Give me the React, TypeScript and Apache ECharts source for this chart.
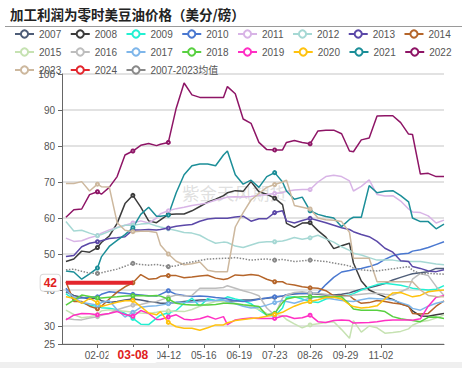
import React, { useEffect, useRef } from 'react';
import * as echarts from 'echarts';

const FONT = "'Liberation Sans', 'Noto Sans CJK SC', sans-serif";
const titleText = '加工利润为零时美豆油价格（美分/磅）';
const watermarkText = '紫金天风期货';
const tickLabels = ['02-02', '03-08', '04-12', '05-16', '06-19', '07-23', '08-26', '09-29', '11-02'];
const categoryCount = 98;
const weekCount = 52;

const y2007 = [39.5,38.5,38,37.5,37.8,37,36.5,36.8,37.2,37.5,37.2,36.8,36.5,36.3,36.3,36.5,36.8,37,37.2,37.3,37,36.8,36.9,37,37.2,37.2,37.5,37.7,38,38.3,38.6,38.9,39.1,39,38.8,38.6,38.6,38.8,39.2,39.6,40.2,40.6,41.2,41.8,42.8,43.5,44.2,44.5,44.8,45.1,46,46];
const y2008 = [47.9,48.6,50.8,50.5,51.8,53.2,55,58.5,64,66.3,63,59.2,58.7,59.5,61,61.1,61.1,62,63.2,64.4,65.2,66.2,67,67.6,67.4,70.1,67.3,66.6,65.5,63.7,58.5,57.4,58.6,58.7,56.5,54.7,51.5,52.3,53,47.5,42.5,40,39,38.1,37.4,36.2,35.5,34.2,32.8,32.7,33.1,33.5];
const y2009 = [39,37.3,36.5,35.8,35.4,35.1,34.9,34.5,33.5,32.1,30.5,30.4,32.2,33,33.7,34.3,36.3,37.7,35.5,37.6,37,37.5,38.1,37.5,37,36.2,34.5,33,32.8,35,38,38.1,37.5,36.8,36.5,37.5,38,38.3,38.6,39,40,40.8,41.5,41.9,41.6,41.3,40.8,40.5,40.2,40,40.2,41.2];
const y2010 = [40.5,37.7,37.8,38,38.1,38.8,39.5,39.3,39.1,38.8,38.6,38.4,38.3,38.8,39.8,38.8,38.5,38.2,38.3,38.2,37.9,37.7,37.5,37,36.8,37,37.4,37.8,38.1,38.3,38.7,39.1,39,39.1,39.2,41.5,43.5,45,45.4,45.7,46,46.5,47.2,48.5,49.5,50,50.2,50.8,51.2,51.8,52.6,53.4];
const y2011 = [54.4,53.5,53.7,54.5,55.1,55.8,56.7,57.4,58,58.6,59.2,58.6,60,61.2,62,62.6,63,63.5,63.8,64.2,65,65.5,65.8,65.9,65.8,66,66.3,66.5,66.8,67.1,67.4,67.8,67.9,67.9,70,71.5,71.9,71.5,70.3,67.5,68.8,70.6,66.5,66.1,66.2,64.7,62.5,61.7,61.5,60.6,58.6,59.4];
const y2012 = [59,56.4,56.6,55.8,55.1,55.4,56.3,57.3,58,58,58.3,58.5,57.8,57.5,57,56.5,56,55.8,55.2,54,53,53.3,53.2,52.2,51.8,52.5,53.2,53.4,53.4,53.6,53.9,54.6,54.1,54.5,55.2,54.2,53.3,52,51,50.2,49.7,49,48.3,48.3,48.3,48,47.9,47.9,47.9,47.6,47.2,47];
const y2013 = [49.3,49.6,52,53,53.4,53.7,54.3,54.5,54.8,56.7,56.7,56.8,56.7,56.8,57.2,57.7,58,58.2,59.1,59.7,59.9,59.9,59.9,60.3,60.5,59.1,59.8,59.8,61.5,62,59.2,58.6,59.3,59.9,59.3,58.7,58,57.3,56.8,56.2,55.4,54.8,53.5,51.6,50.5,48.1,47.9,46.5,46,45.3,45.1,45.6];
const y2014 = [42.3,36.8,36.8,35.5,34.8,35.5,37.5,39.4,40.9,42,44.3,43,43.2,43.8,44,44,43.4,43.6,43.9,44.1,43.3,42.9,43.1,44.2,44,44.3,44,43,42.3,42.3,41.7,41.4,40.9,40.6,40.5,39.8,38.4,38.3,38.4,37.5,36.3,36.5,37.1,36.8,36.4,36.1,35.5,33.5,33.3,33.5,35.5,37];
const y2015 = [34.4,33.2,32.3,32.6,33.1,34.2,34.5,34.3,34.1,33.8,33.6,33.5,33.8,34,34.2,34.1,34,34.6,35.5,36.2,36.8,36.9,36.5,36.3,35.8,35.4,34.6,33.5,33.3,32.8,31.8,30.6,29.5,30.3,30.6,31,31.2,29,26.6,31.5,28.3,30,29.5,28,28.2,28.5,29.2,30.2,31.2,31.5,32.2,33.1];
const y2016 = [32.1,31.8,31.7,32.2,32.6,33,33.5,34.5,35.2,35.8,36,36.5,36.8,37.2,38,38.6,38.3,38.5,40.5,40.5,40.5,40.7,41.2,40.5,39.8,39.2,38.4,35,33,37.8,38.6,39.3,39.5,39.2,39,38.8,38.3,38.1,38.3,38.6,38.8,39,39.1,38.8,38.6,39.5,40.5,43,44.6,44,41,38.5];
const y2017 = [40,38,36.5,36.2,35.8,36.5,37,34.5,32.5,33.8,35.2,35.5,35.6,35.8,36.2,36.7,36.5,36.6,36.8,37,37.1,37.2,36.8,36.2,35.5,35,35.2,35.8,36.5,37.1,36.8,36.3,37,37.8,38.1,37.8,37.4,37.1,36.9,36.8,37.3,37.7,37.6,37.5,37.2,36.5,35.8,34.9,34.4,35.5,36.3,36.8];
const y2018 = [35.8,37.2,38.6,38.2,37.8,37.8,38,38.1,38.3,38.4,38.5,38.3,38.5,38.3,37.5,36.3,36,35.8,35.8,35.8,36,36.3,36.3,36.2,35.9,35.7,35.4,33,33.5,36.5,37.5,38,38.1,38.1,38.1,38.1,38.1,38.1,36,34.7,34.4,34.4,34.4,34,32.6,32,31.7,31.5,31.2,32.4,32.5,32.1];
const y2019 = [31.7,33,33.5,33.4,33.1,33.2,33.5,34,33.2,32.7,34.3,33.5,31.8,31.8,32.5,33.1,31.9,31.7,32,32.7,31.9,32.6,30.4,31.7,32,32.2,32.1,32.1,32.1,32.8,32.8,32.1,32.3,33,31.2,31,31.5,31.7,31.5,30.8,30.9,31,31.2,31.5,31.7,31.7,31.7,31.6,32,35.5,38,38.4];
const y2020 = [38.1,37.7,36.3,37.7,36.5,35.4,36,36.6,37,37.1,35.4,33.6,33.1,34,31,29.8,29.4,29.4,28.8,29.5,30.3,30.3,30.9,31.5,31.8,32.1,32.3,32.7,33.2,33.8,34.4,35.5,36.3,36.8,37.3,37.9,38,37.5,35.9,35.4,35,35.2,35.6,37.5,39.2,39.3,38.5,38.1,38.5,39.5,39.8,40];
const y2021 = [45.3,45,43,44.5,46.1,49.2,52.1,53.8,55.4,57.3,61,63,60.5,60.5,60.8,67,72,74.5,75,75,74.5,77.5,78.6,72,69.4,70.5,68.5,71.5,72.6,70,67.5,65.2,65.8,62,61,60.4,60,57.6,59.6,60.2,60.2,69,67,67.4,67.6,66.2,64.5,60,59,59,57,58.3];
const y2022 = [60.2,62.3,62.5,66.5,67.3,66.6,68.5,71.5,77.5,78.6,80.2,80.7,80.1,80.5,81,90.5,97.5,94.2,93.5,93.5,93.5,93.5,96.5,94.5,87.5,86.3,81,79,78.9,78.9,81,81.5,81,80.6,84.2,84.4,84.4,83.4,78.6,78.4,81.7,82.2,88.3,88.4,88.4,86.5,83.3,83.2,72.2,72.4,71.5,71.5];
const y2023 = [69.6,69.6,70.1,67.5,69.4,68.7,68.6,58.7,56.6,56.2,56.3,56.3,56,52.5,50,48,47,47.3,47.8,45.5,45.1,45.1,45.1,57.5,61.5,65,66.8,68.5,69.3,70,70.5,63.5,63,62.5,60,59.5,59.4,59,56,48.8,48.8,48.8,42.3,42.3,42.3,42.3,42.3,42.3,40,38.5,38.2,38.1];
const y2024 = [42,42,42,42,42,42,42,42,42,42];
const yMean = [45.6,45.8,45.2,44.7,44.6,44.8,45.3,45.8,46.6,47.4,47.1,46.9,47.1,46.9,46.5,46.7,47.4,47.8,48.2,48.6,48.7,48.8,48.8,49,48.7,48.3,48.5,48.6,48.3,48.5,48.3,47.9,48.1,48.3,48.1,47.9,47.5,47.1,46.7,46.1,45.6,45.4,45.3,45.6,45.9,46.2,46.5,45.5,44.5,44.6,44.5,44.4];

const seriesDefs = [
  { name: '2007', data: y2007, color: '#4E5D78' },
  { name: '2008', data: y2008, color: '#3C3C3C' },
  { name: '2009', data: y2009, color: '#22F0D2' },
  { name: '2010', data: y2010, color: '#4A78D0' },
  { name: '2011', data: y2011, color: '#D8B4E6' },
  { name: '2012', data: y2012, color: '#A6D8D4' },
  { name: '2013', data: y2013, color: '#5B48A8' },
  { name: '2014', data: y2014, color: '#B5652A' },
  { name: '2015', data: y2015, color: '#C6E2B2' },
  { name: '2016', data: y2016, color: '#BDBDBD' },
  { name: '2017', data: y2017, color: '#7EB6EA' },
  { name: '2018', data: y2018, color: '#58D040' },
  { name: '2019', data: y2019, color: '#FF2FC4' },
  { name: '2020', data: y2020, color: '#FFC20E' },
  { name: '2021', data: y2021, color: '#1B8E98' },
  { name: '2022', data: y2022, color: '#8E1566' },
  { name: '2023', data: y2023, color: '#CDB89E' },
  { name: '2024', data: y2024, color: '#E3262D' },
  { name: '2007-2023均值', data: yMean, color: '#888888' },
];

const pad2 = (n: number) => String(n).padStart(2, '0');
const baseDate = new Date(2023, 11, 29);
const categories = Array.from({ length: categoryCount }, (_, k) => {
  if (k > 0 && k % 9 === 0 && k / 9 <= tickLabels.length) return tickLabels[k / 9 - 1];
  const d = new Date(baseDate.getTime() + Math.round(k * 3.83) * 86400000);
  return `${pad2(d.getMonth() + 1)}-${pad2(d.getDate())}`;
});

const slot = (j: number) => Math.round(1 + (j * (categoryCount - 2)) / (weekCount - 1));
const expand = (values: number[]) => {
  const arr: (number | null)[] = new Array(categoryCount).fill(null);
  values.forEach((v, j) => {
    arr[slot(j)] = v;
  });
  return arr;
};
const showTick = (idx: number) => idx > 0 && idx % 9 === 0 && idx / 9 <= tickLabels.length;

export default function App() {
  const ref = useRef<HTMLDivElement>(null);
  useEffect(() => {
    if (!ref.current) return;
    const chart = echarts.init(ref.current, undefined, { renderer: 'svg' });
    const names = seriesDefs.map((s) => s.name);
    const legendCommon = {
      padding: 0,
      itemWidth: 19,
      itemHeight: 9,
      itemGap: 8.5,
      selectedMode: false,
      textStyle: { fontSize: 10, color: '#555', fontFamily: FONT },
    };
    const legendData = (list: string[]) =>
      list.map((n) => (n === '2007-2023均值' ? { name: n, lineStyle: { type: 'solid' } } : { name: n }));
    const lastIdx2024 = y2024.length - 1;
    chart.setOption({
      animation: false,
      backgroundColor: '#fff',
      title: {
        text: titleText,
        left: 10,
        top: 7,
        padding: 0,
        textStyle: { fontSize: 13.5, fontWeight: 'bold', color: '#222', fontFamily: "'Noto Sans CJK SC', sans-serif" },
      },
      legend: [
        { ...legendCommon, data: legendData(names.slice(0, 8)), left: 14, top: 29 },
        { ...legendCommon, data: legendData(names.slice(8, 16)), left: 14, top: 47 },
        { ...legendCommon, data: legendData(names.slice(16)), left: 14, top: 65 },
      ],
      grid: { left: 62, right: 18, top: 74, bottom: 24 },
      xAxis: {
        type: 'category',
        data: categories,
        boundaryGap: false,
        axisLine: { lineStyle: { color: '#666' } },
        axisTick: { interval: showTick, length: 4, lineStyle: { color: '#666' } },
        axisLabel: { interval: showTick, fontSize: 10, color: '#555', margin: 6, fontFamily: FONT },
        splitLine: { show: false },
        axisPointer: {
          show: true,
          type: 'line',
          value: slot(lastIdx2024),
          status: 'show',
          snap: false,
          triggerTooltip: false,
          lineStyle: { opacity: 0 },
          label: {
            show: true,
            formatter: (p: any) => (typeof p.value === 'number' ? categories[p.value] : p.value),
            color: '#E02020',
            fontWeight: 'bold',
            fontSize: 12,
            fontFamily: FONT,
            backgroundColor: '#fff',
            padding: [2, 9],
            margin: 3,
          },
        },
      },
      yAxis: {
        type: 'value',
        min: 25,
        max: 100,
        splitNumber: 8,
        axisLine: { show: true, lineStyle: { color: '#666' } },
        axisTick: { show: true, length: 4, lineStyle: { color: '#666' } },
        axisLabel: { fontSize: 10, color: '#555', margin: 7, fontFamily: FONT },
        splitLine: { lineStyle: { color: '#e2e2e2', width: 2 } },
        axisPointer: {
          show: true,
          type: 'line',
          value: y2024[lastIdx2024],
          status: 'show',
          snap: false,
          triggerTooltip: false,
          lineStyle: { opacity: 0 },
          label: {
            show: true,
            formatter: (p: any) => String(Math.round(Number(p.value))),
            color: '#E02020',
            fontWeight: 'bold',
            fontSize: 12,
            fontFamily: FONT,
            backgroundColor: '#fff',
            borderColor: '#d8d8d8',
            borderWidth: 1,
            padding: [2, 3],
            margin: 2,
          },
        },
      },
      graphic: [
        { type: 'rect', left: 5, top: 26, silent: true, shape: { width: 457, height: 1 }, style: { fill: '#9a9a9a' } },
        {
          type: 'text',
          left: 182,
          top: 184,
          silent: true,
          z: 0,
          style: { text: watermarkText, fontSize: 17.5, fill: 'rgba(185,185,185,0.45)', fontFamily: "'Noto Sans CJK SC', sans-serif" },
        },
        { type: 'rect', left: 0, top: 362, silent: true, shape: { width: 462, height: 6 }, style: { fill: '#efefef' } },
      ],
      series: seriesDefs.map((s) => {
        const is2024 = s.name === '2024';
        const isMean = s.name === '2007-2023均值';
        return {
          type: 'line',
          name: s.name,
          data: expand(s.data),
          connectNulls: true,
          symbol: 'emptyCircle',
          symbolSize: 3,
          showSymbol: !is2024,
          showAllSymbol: 'auto',
          z: is2024 ? 4 : 2,
          lineStyle: { width: is2024 ? 4 : 1.5, color: s.color, type: isMean ? 'dotted' : 'solid' },
          itemStyle: { color: s.color, borderWidth: 1 },
          emphasis: { disabled: true },
        };
      }),
    });
    return () => chart.dispose();
  }, []);
  return (
    <div
      ref={ref}
      style={{ position: 'fixed', left: 0, top: 0, width: 462, height: 368, background: '#fff' }}
    />
  );
}
